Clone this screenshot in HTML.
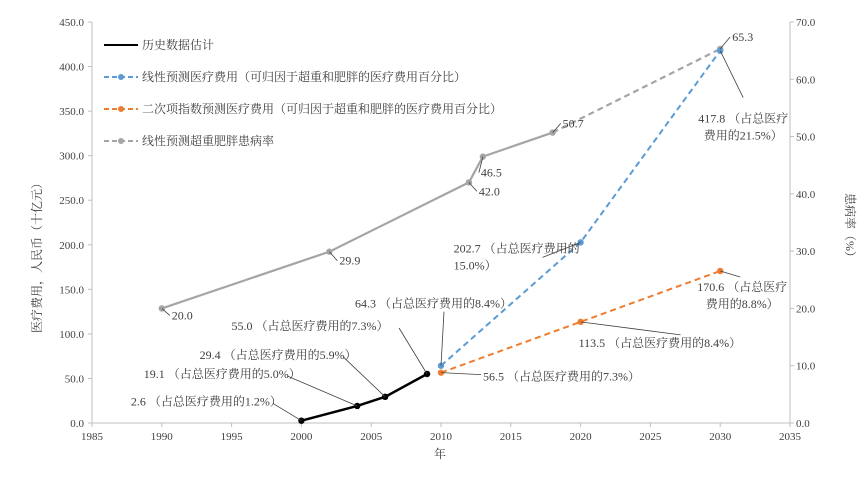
<!DOCTYPE html>
<html><head><meta charset="utf-8"><style>
body{margin:0;background:#fff;}
svg{display:block;font-family:"Liberation Serif","Noto Serif CJK SC","Noto Sans CJK SC",serif;}
</style></head><body>
<svg id="chart" width="866" height="477"></svg>
<script>
const histYears=[2000,2004,2006,2009];
const histVals=[2.6,19.1,29.4,55.0];
const linYears=[2010,2020,2030];
const linVals=[64.3,202.7,417.8];
const expYears=[2010,2020,2030];
const expVals=[56.5,113.5,170.6];
const prevYears=[1990,2002,2012,2013,2018,2030];
const prevVals=[20.0,29.9,42.0,46.5,50.7,65.3];
const prevSolidCount=5;
const xTicks=[1985,1990,1995,2000,2005,2010,2015,2020,2025,2030,2035];
const yTicks=[0,50,100,150,200,250,300,350,400,450];
const y2Ticks=[0,10,20,30,40,50,60,70];
const histLabels=["2.6 （占总医疗费用的1.2%）","19.1 （占总医疗费用的5.0%）","29.4 （占总医疗费用的5.9%）","55.0 （占总医疗费用的7.3%）"];
const linLabels=[["64.3 （占总医疗费用的8.4%）"],["202.7 （占总医疗费用的","15.0%）"],["417.8 （占总医疗","费用的21.5%）"]];
const expLabels=[["56.5 （占总医疗费用的7.3%）"],["113.5 （占总医疗费用的8.4%）"],["170.6 （占总医疗","费用的8.8%）"]];
const prevLabels=["20.0","29.9","42.0","46.5","50.7","65.3"];

const X0=92,X1=790,Y0=423,Y1=22;
const sx=v=>X0+(v-1985)/(2035-1985)*(X1-X0);
const sy=v=>Y0-v/450*(Y0-Y1);
const sy2=v=>Y0-v/70*(Y0-Y1);
const svg=document.getElementById('chart');
const NS='http://www.w3.org/2000/svg';
function el(tag,attrs,parent){const e=document.createElementNS(NS,tag);for(const k in attrs)e.setAttribute(k,attrs[k]);(parent||svg).appendChild(e);return e;}
function txt(x,y,s,anchor,size,parent){const t=el('text',{x:x,y:y,'font-size':size||12,'text-anchor':anchor||'start',fill:'#404040'},parent);t.textContent=s;return t;}

const ax=el('g',{});


el('line',{x1:X0,y1:Y1,x2:X0,y2:Y0,stroke:'#bfbfbf'},ax);
el('line',{x1:X1,y1:Y1,x2:X1,y2:Y0,stroke:'#bfbfbf'},ax);
el('line',{x1:X0,y1:Y0,x2:X1,y2:Y0,stroke:'#bfbfbf'},ax);
xTicks.forEach(v=>{el('line',{x1:sx(v),y1:Y0,x2:sx(v),y2:Y0+4,stroke:'#bfbfbf'},ax);const t=txt(sx(v),Y0+17,String(v),'middle',11,ax);});
yTicks.forEach(v=>{el('line',{x1:X0-4,y1:sy(v),x2:X0,y2:sy(v),stroke:'#bfbfbf'},ax);const t=txt(X0-8,sy(v)+4,v.toFixed(1),'end',11,ax);});
y2Ticks.forEach(v=>{el('line',{x1:X1,y1:sy2(v),x2:X1+4,y2:sy2(v),stroke:'#bfbfbf'},ax);const t=txt(X1+6,sy2(v)+4,v.toFixed(1),'start',11,ax);});
const xt=txt(440,458,'年','middle',12);


const yt=txt(0,0,'医疗费用，人民币（十亿元）','middle',12);
yt.setAttribute('transform','translate(41,255) rotate(-90)');


const y2t=txt(0,0,'患病率（%）','middle',12);
y2t.setAttribute('transform','translate(846,228) rotate(90)');



function series(xs,vs,scale,color,dash,width,name,solidCount){
  const g=el('g',{});
  
  
  const P=xs.map((x,i)=>[sx(x),scale(vs[i])]);
  if(solidCount){
    el('polyline',{points:P.slice(0,solidCount).map(p=>p.join(',')).join(' '),fill:'none',stroke:color,'stroke-width':width},g);
    el('polyline',{points:P.slice(solidCount-1).map(p=>p.join(',')).join(' '),fill:'none',stroke:color,'stroke-width':width,'stroke-dasharray':'6,4'},g);
  } else {
    const a={points:P.map(p=>p.join(',')).join(' '),fill:'none',stroke:color,'stroke-width':width};
    if(dash)a['stroke-dasharray']=dash;
    el('polyline',a,g);
  }
  P.forEach(p=>{const c=el('circle',{cx:p[0],cy:p[1],r:3.2,fill:color},g);});
}
function leader(x1,y1,x2,y2){el('line',{x1:x1,y1:y1,x2:x2,y2:y2,stroke:'#404040','stroke-width':0.8});}
function label(lines,x,y,anchor,name){lines.forEach((s,i)=>{const t=txt(x,y+i*17,s,anchor,12);});}

series(prevYears,prevVals,sy2,'#a5a5a5',null,2.2,'prevalence-series',prevSolidCount);
series(linYears,linVals,sy,'#5b9bd5','6,4',2,'linear-forecast-series');
series(expYears,expVals,sy,'#ed7d31','6,4',2,'exponential-forecast-series');
series(histYears,histVals,sy,'#000000',null,2.5,'historical-series');

const hOff=[[-95,-15,'middle',-28,-17],[-135,-28,'middle',-70,-30],[-107,-38,'middle',-42,-40],[-117,-44,'middle',-28,-46]];
histYears.forEach((yr,i)=>{const px=sx(yr),py=sy(histVals[i]);const o=hOff[i];leader(px,py,px+o[3],py+o[4]);label([histLabels[i]],px+o[0],py+o[1],o[2],'historical-label');});
const px0=sx(linYears[0]),py0=sy(linVals[0]);leader(px0,py0,px0+3,py0-54);label(linLabels[0],px0-86,py0-58,'start','linear-label');
const px1=sx(linYears[1]),py1=sy(linVals[1]);leader(px1,py1,px1-38,py1+15);label(linLabels[1],px1-127,py1+10,'start','linear-label');
const px2=sx(linYears[2]),py2=sy(linVals[2]);leader(px2,py2,px2+23,py2+47);label(linLabels[2],px2+23,py2+72,'middle','linear-label');
const ex0=sx(expYears[0]),ey0=sy(expVals[0]);leader(ex0,ey0,ex0+40,ey0+2);label(expLabels[0],ex0+42,ey0+8,'start','exponential-label');
const ex1=sx(expYears[1]),ey1=sy(expVals[1]);leader(ex1,ey1,ex1+100,ey1+13);label(expLabels[1],ex1-2,ey1+25,'start','exponential-label');
const ex2=sx(expYears[2]),ey2=sy(expVals[2]);leader(ex2,ey2,ex2+20,ey2+6);label(expLabels[2],ex2+22,ey2+20,'middle','exponential-label');
const pOff=[[10,11],[10,13],[10,13],[-2,20],[10,-5],[12,-8]];
prevYears.forEach((yr,i)=>{const px=sx(yr),py=sy2(prevVals[i]);leader(px,py,px+pOff[i][0]-2,py+pOff[i][1]-4);label([prevLabels[i]],px+pOff[i][0],py+pOff[i][1],'start','prevalence-label');});

const lg=el('g',{});


const legItems=[['历史数据估计','#000','',false],['线性预测医疗费用（可归因于超重和肥胖的医疗费用百分比）','#5b9bd5','5,3',true],['二次项指数预测医疗费用（可归因于超重和肥胖的医疗费用百分比）','#ed7d31','5,3',true],['线性预测超重肥胖患病率','#a5a5a5','5,3',true]];
legItems.forEach((it,i)=>{const y=45+i*32;const a={x1:104,y1:y,x2:138,y2:y,stroke:it[1],'stroke-width':2};if(it[2])a['stroke-dasharray']=it[2];el('line',a,lg);if(it[3])el('circle',{cx:121,cy:y,r:3,fill:it[1]},lg);const t=txt(142,y+4,it[0],'start',12,lg);});
</script>
</body></html>
